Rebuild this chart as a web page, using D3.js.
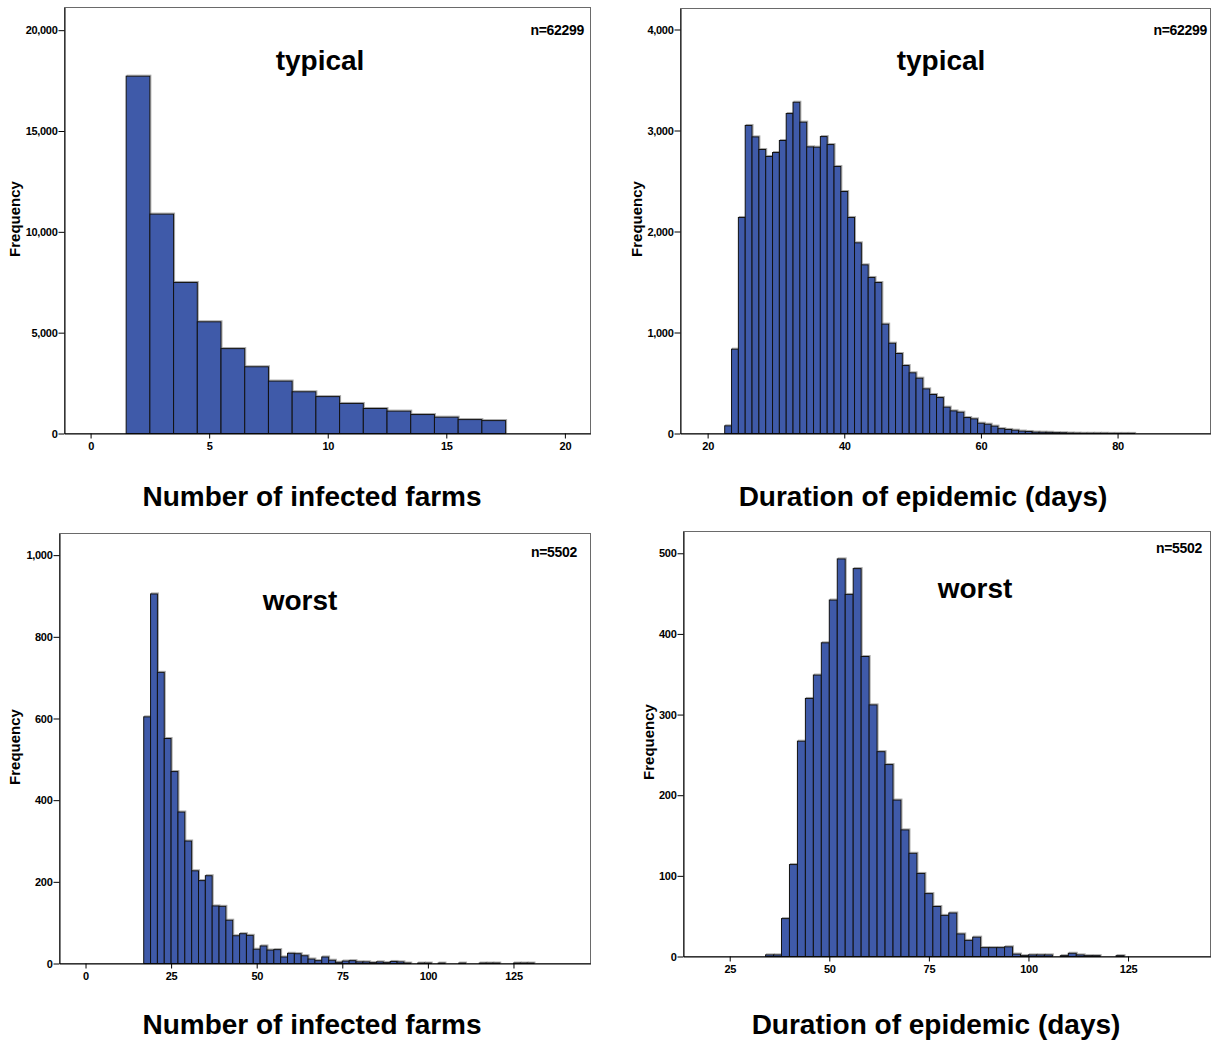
<!DOCTYPE html>
<html>
<head>
<meta charset="utf-8">
<script src="https://cdn.jsdelivr.net/npm/d3@7"></script>
<style>
  body { margin: 0; background: #fff; }
  svg { display: block; font-family: "Liberation Sans", Arial, sans-serif; }
  .tick text { font-size: 11px; font-weight: bold; letter-spacing: -0.3px; fill: #000; }
  .tick line, .domain { stroke: #000; }
</style>
</head>
<body>
<div id="chart"></div>
<script>
// Number of infected farms, typical outbreaks (bin lower edges, width 1)
var farmsTypicalEdges = [1.5, 2.5, 3.5, 4.5, 5.5, 6.5, 7.5, 8.5, 9.5, 10.5, 11.5, 12.5, 13.5, 14.5, 15.5, 16.5];
var farmsTypicalCounts = [17720, 10880, 7490, 5540, 4210, 3310, 2600, 2070, 1830, 1490, 1240, 1110, 940, 810, 690, 640];

// Duration of epidemic (days), typical outbreaks (bin lower edges, width 1)
var daysTypicalEdges = [22.5, 23.5, 24.5, 25.5, 26.5, 27.5, 28.5, 29.5, 30.5, 31.5, 32.5, 33.5, 34.5, 35.5, 36.5,
  37.5, 38.5, 39.5, 40.5, 41.5, 42.5, 43.5, 44.5, 45.5, 46.5, 47.5, 48.5, 49.5, 50.5, 51.5, 52.5, 53.5, 54.5,
  55.5, 56.5, 57.5, 58.5, 59.5, 60.5, 61.5, 62.5, 63.5, 64.5, 65.5, 66.5, 67.5, 68.5, 69.5, 70.5, 71.5, 72.5,
  73.5, 74.5, 75.5, 76.5, 77.5, 78.5, 79.5, 80.5, 81.5];
var daysTypicalCounts = [76, 835, 2139, 3050, 2937, 2812, 2743, 2782, 2901, 3168, 3280, 3083, 2838, 2835, 2940,
  2861, 2644, 2396, 2139, 1888, 1670, 1545, 1495, 1083, 894, 792, 673, 601, 548, 442, 386, 356, 261,
  224, 211, 158, 145, 102, 92, 73, 48, 40, 33, 24, 20, 14, 13, 12, 8, 7, 4,
  3, 2, 2, 2, 2, 1, 1, 1, 1];

// Number of infected farms, worst outbreaks (bin lower edges, width 2)
var farmsWorstEdges = [17, 19, 21, 23, 25, 27, 29, 31, 33, 35, 37, 39, 41, 43, 45, 47, 49, 51, 53, 55, 57, 59,
  61, 63, 65, 67, 69, 71, 73, 75, 77, 79, 81, 83, 85, 87, 89, 91, 93, 95, 97, 99, 101, 103, 105, 107, 109,
  111, 113, 115, 117, 119, 121, 123, 125, 127, 129];
var farmsWorstCounts = [604, 905, 713, 551, 470, 371, 300, 227, 203, 215, 141, 140, 106, 68, 73, 69, 35, 43, 33, 34, 16, 25,
  24, 19, 11, 7, 16, 8, 3, 6, 7, 4, 4, 2, 4, 2, 5, 4, 1, 0, 1, 1, 0, 1, 0, 0, 1,
  0, 0, 1, 1, 1, 0, 0, 1, 1, 1];

// Duration of epidemic (days), worst outbreaks (bin lower edges, width 2)
var daysWorstEdges = [34, 36, 38, 40, 42, 44, 46, 48, 50, 52, 54, 56, 58, 60, 62, 64, 66, 68, 70, 72, 74, 76,
  78, 80, 82, 84, 86, 88, 90, 92, 94, 96, 98, 100, 102, 104, 106, 108, 110, 112, 114, 116, 118, 120, 122];
var daysWorstCounts = [2, 2, 47, 114, 267, 320, 349, 389, 442, 493, 449, 481, 372, 312, 254, 238, 194, 157, 128, 103, 78, 62,
  51, 54, 28, 20, 24, 11, 11, 11, 12, 3, 1, 2, 2, 2, 0, 1, 4, 2, 1, 1, 0, 0, 1];

// Tick labels
var farmsTypicalXTicks = [0, 5, 10, 15, 20];
var farmsTypicalYTicks = [0, 5000, 10000, 15000, 20000];
var daysTypicalXTicks = [20, 40, 60, 80];
var daysTypicalYTicks = [0, 1000, 2000, 3000, 4000];
var farmsWorstXTicks = [0, 25, 50, 75, 100, 125];
var farmsWorstYTicks = [0, 200, 400, 600, 800, 1000];
var daysWorstXTicks = [25, 50, 75, 100, 125];
var daysWorstYTicks = [0, 100, 200, 300, 400, 500];

var svg = d3.select("#chart")
  .append("svg")
  .attr("width", 1211)
  .attr("height", 1041);

var fmt = d3.format(",");

function drawPanel(p) {
  var x = d3.scaleLinear().domain(p.xDomain).range([p.left, p.right]);
  var y = d3.scaleLinear().domain([0, p.yMax]).range([p.bottom, p.top]);
  var g = svg.append("g");

  // frame
  g.append("rect")
    .attr("x", p.left).attr("y", p.top)
    .attr("width", p.right - p.left).attr("height", p.bottom - p.top)
    .attr("fill", "none").attr("stroke", "#6a6a6a").attr("stroke-width", 1);

  var bins = p.edges.map(function(e, i) {
    return { x0: e, x1: e + p.binWidth, n: p.counts[i] };
  }).filter(function(d) { return d.n > 0; });

  // light shadow at the top/right of each bar
  g.selectAll("rect.shadow").data(bins).enter().append("rect")
    .attr("class", "shadow")
    .attr("x", function(d) { return x(d.x0) + 1; })
    .attr("y", function(d) { return y(d.n) - 1; })
    .attr("width", function(d) { return x(d.x1) - x(d.x0); })
    .attr("height", function(d) { return y(0) - y(d.n); })
    .attr("fill", "none").attr("stroke", "#a8a8a8").attr("stroke-width", 1);

  g.selectAll("rect.bar").data(bins).enter().append("rect")
    .attr("class", "bar")
    .attr("x", function(d) { return x(d.x0); })
    .attr("y", function(d) { return y(d.n); })
    .attr("width", function(d) { return x(d.x1) - x(d.x0); })
    .attr("height", function(d) { return y(0) - y(d.n); })
    .attr("fill", "#3f5aa9").attr("stroke", "#111").attr("stroke-width", 1);

  g.append("g")
    .attr("transform", "translate(0," + p.bottom + ")")
    .call(d3.axisBottom(x).tickValues(p.xTicks).tickSize(5).tickPadding(4).tickSizeOuter(0).tickFormat(fmt));

  g.append("g")
    .attr("transform", "translate(" + p.left + ",0)")
    .call(d3.axisLeft(y).tickValues(p.yTicks).tickSize(6).tickPadding(1).tickSizeOuter(0).tickFormat(fmt));

  g.append("text")
    .attr("transform", "translate(" + (p.freqX + 5.5) + "," + p.freqY + ") rotate(-90)")
    .attr("text-anchor", "middle")
    .style("font-size", "15px").style("font-weight", "bold")
    .text("Frequency");

  g.append("text")
    .attr("x", p.nX).attr("y", p.nY)
    .attr("text-anchor", "end")
    .style("font-size", "14px").style("font-weight", "bold").style("letter-spacing", "-0.3px")
    .text(p.nLabel);

  g.append("text")
    .attr("x", p.tagX).attr("y", p.tagY)
    .attr("text-anchor", "middle")
    .style("font-size", "28px").style("font-weight", "bold")
    .text(p.tag);

  g.append("text")
    .attr("x", p.titleX).attr("y", p.titleY)
    .attr("text-anchor", "middle")
    .style("font-size", "28px").style("font-weight", "bold")
    .text(p.title);
}

drawPanel({
  left: 64.5, right: 590.5, top: 7.5, bottom: 433.5,
  xDomain: [-1.1, 21.08], yMax: 21125,
  edges: farmsTypicalEdges, counts: farmsTypicalCounts, binWidth: 1,
  xTicks: farmsTypicalXTicks, yTicks: farmsTypicalYTicks,
  freqX: 14, freqY: 219, nX: 584, nY: 35, nLabel: "n=62299",
  tag: "typical", tagX: 320, tagY: 70,
  title: "Number of infected farms", titleX: 312, titleY: 506
});

drawPanel({
  left: 680.5, right: 1210.5, top: 8.5, bottom: 433.5,
  xDomain: [16.03, 93.6], yMax: 4208,
  edges: daysTypicalEdges, counts: daysTypicalCounts, binWidth: 1,
  xTicks: daysTypicalXTicks, yTicks: daysTypicalYTicks,
  freqX: 636, freqY: 219, nX: 1207, nY: 34.5, nLabel: "n=62299",
  tag: "typical", tagX: 941, tagY: 70,
  title: "Duration of epidemic (days)", titleX: 923, titleY: 506
});

drawPanel({
  left: 59.5, right: 590.5, top: 533.5, bottom: 963.5,
  xDomain: [-7.6, 147.5], yMax: 1053,
  edges: farmsWorstEdges, counts: farmsWorstCounts, binWidth: 2,
  xTicks: farmsWorstXTicks, yTicks: farmsWorstYTicks,
  freqX: 14.5, freqY: 747, nX: 577, nY: 557, nLabel: "n=5502",
  tag: "worst", tagX: 300, tagY: 610,
  title: "Number of infected farms", titleX: 312, titleY: 1034
});

drawPanel({
  left: 683.5, right: 1210.5, top: 531.5, bottom: 956.5,
  xDomain: [13.4, 145.7], yMax: 527,
  edges: daysWorstEdges, counts: daysWorstCounts, binWidth: 2,
  xTicks: daysWorstXTicks, yTicks: daysWorstYTicks,
  freqX: 648, freqY: 742, nX: 1202, nY: 553, nLabel: "n=5502",
  tag: "worst", tagX: 975, tagY: 598,
  title: "Duration of epidemic (days)", titleX: 936, titleY: 1034
});
</script>
</body>
</html>
